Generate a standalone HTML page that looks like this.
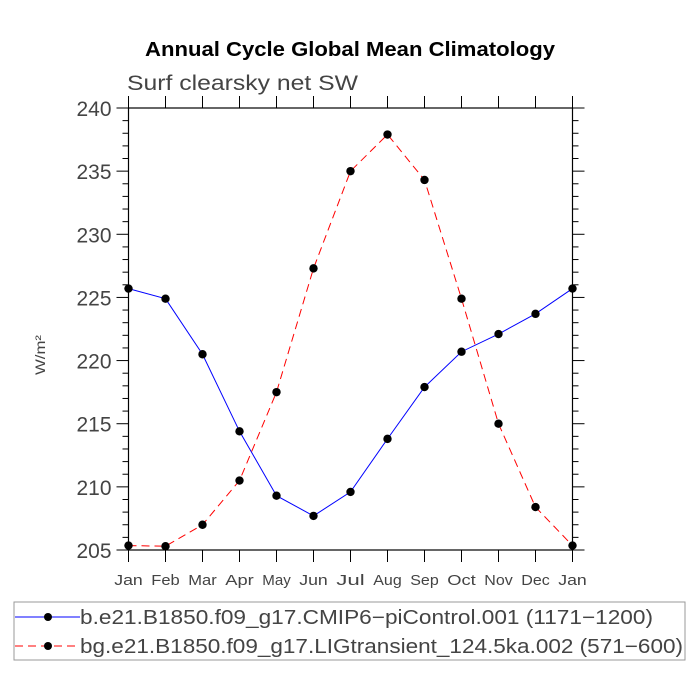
<!DOCTYPE html>
<html><head><meta charset="utf-8"><style>
body{margin:0;background:#fff;}
svg{display:block;font-family:"Liberation Sans","DejaVu Sans",sans-serif;}
</style></head><body>
<svg id="chart" width="700" height="700">
<text x="145" y="56" font-size="20" font-weight="bold" fill="#000" textLength="410" lengthAdjust="spacingAndGlyphs">Annual Cycle Global Mean Climatology</text>
<text x="127" y="90" font-size="21" fill="#444" textLength="231" lengthAdjust="spacingAndGlyphs">Surf clearsky net SW</text>
<text transform="translate(45,355) rotate(-90)" text-anchor="middle" font-size="14" fill="#444" textLength="40" lengthAdjust="spacingAndGlyphs">W/m²</text>
<g id="axes"></g>
<g id="series"></g>
<rect x="14" y="602" width="671" height="58" fill="none" stroke="#999"/>
<g>
<line x1="15" y1="617" x2="80" y2="617" stroke="#00f"/>
<circle cx="48" cy="617" r="4" fill="#000"/>
<text x="80" y="624" font-size="20" fill="#444" textLength="573" lengthAdjust="spacingAndGlyphs">b.e21.B1850.f09_g17.CMIP6−piControl.001 (1171−1200)</text>
</g>
<g>
<line x1="15" y1="646" x2="80" y2="646" stroke="#f00" stroke-dasharray="8,5"/>
<circle cx="48" cy="646" r="4" fill="#000"/>
<text x="80" y="653" font-size="20" fill="#444" textLength="603" lengthAdjust="spacingAndGlyphs">bg.e21.B1850.f09_g17.LIGtransient_124.5ka.002 (571−600)</text>
</g>
</svg>
<script>
const months = ["Jan","Feb","Mar","Apr","May","Jun","Jul","Aug","Sep","Oct","Nov","Dec","Jan"];
const piControl = [225.7,224.9,220.5,214.4,209.3,207.7,209.6,213.8,217.9,220.7,222.1,223.7,225.7];
const ligTransient = [205.35,205.3,207.0,210.5,217.5,227.3,235.0,237.9,234.3,224.9,215.0,208.4,205.35];
const yTicks = [205,210,215,220,225,230,235,240];
const L=128.5,R=572.5,T=108,B=550,yMin=205,yMax=240;
const xs=i=>L+(R-L)*i/(months.length-1);
const ys=v=>B-(B-T)*(v-yMin)/(yMax-yMin);
const NS="http://www.w3.org/2000/svg";
function mk(tag,at,parent){const e=document.createElementNS(NS,tag);for(const k in at)e.setAttribute(k,at[k]);parent.appendChild(e);return e;}
const ax=document.getElementById('axes');
const frame=mk('rect',{x:L,y:T,width:R-L,height:B-T,fill:'none',stroke:'#000','stroke-width':1.2},ax);


months.forEach((m,i)=>{
 const x=xs(i);
 mk('line',{x1:x,y1:B,x2:x,y2:B+12,stroke:'#000'},ax);
 mk('line',{x1:x,y1:T,x2:x,y2:T-12,stroke:'#000'},ax);
 const t=mk('text',{x:x,y:B+35,'text-anchor':'middle','font-size':15,fill:'#444',textLength:m.length*9.5,lengthAdjust:'spacingAndGlyphs'},ax);
 t.textContent=m;
 
 
});
for(let v=yMin;v<=yMax;v++){
 const y=ys(v),maj=(v%5===0),len=maj?12:6;
 mk('line',{x1:L,y1:y,x2:L-len,y2:y,stroke:'#000'},ax);
 mk('line',{x1:R,y1:y,x2:R+len,y2:y,stroke:'#000'},ax);
}
yTicks.forEach(v=>{
 const t=mk('text',{x:L-17,y:ys(v)+8,'text-anchor':'end','font-size':21,fill:'#444',textLength:35,lengthAdjust:'spacingAndGlyphs'},ax);
 t.textContent=v;
 
 
});
const sg=document.getElementById('series');
function series(data,color,dash,name){
 const g=mk('g',{},sg);
 
 
 const p=mk('polyline',{points:data.map((v,i)=>xs(i)+','+ys(v)).join(' '),fill:'none',stroke:color,'stroke-width':1},g);
 if(dash)p.setAttribute('stroke-dasharray',dash);
 data.forEach((v,i)=>{
  const c=mk('circle',{cx:xs(i),cy:ys(v),r:4.2,fill:'#000'},g);
  
  
 });
}
series(piControl,'#00f',null,'series-picontrol');
series(ligTransient,'#f00','8,5','series-ligtransient');
</script>
</body></html>
